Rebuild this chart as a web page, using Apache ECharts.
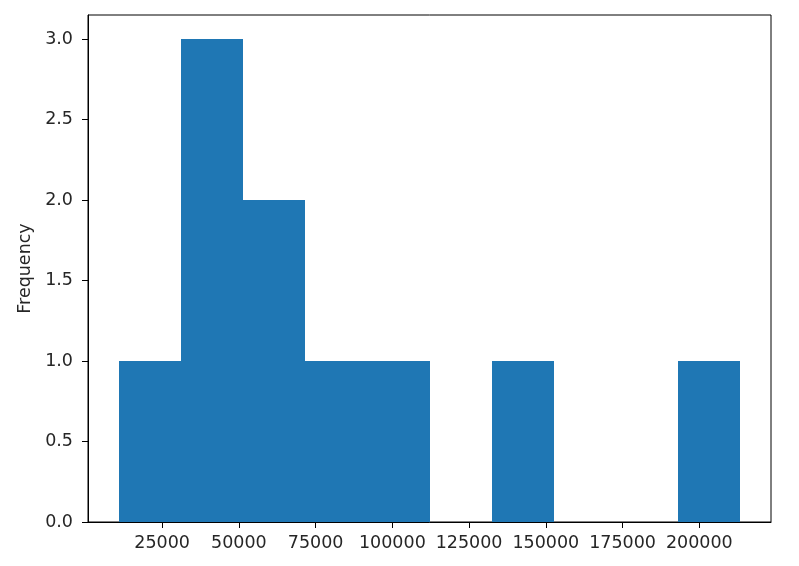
<!DOCTYPE html>
<html>
<head>
<meta charset="utf-8">
<script src="https://cdn.jsdelivr.net/npm/echarts@6/dist/echarts.min.js"></script>
<style>
html,body{margin:0;padding:0;background:#fff;}
#chart{width:799px;height:566px;}
</style>
</head>
<body>
<div id="chart"></div>
<script>
// Histogram bin edges (10 bins) and counts per bin
var binEdges = [10950, 31180, 51410, 71640, 91870, 112100, 132330, 152560, 172790, 193020, 213250];
var binCounts = [1, 3, 2, 1, 1, 0, 1, 0, 0, 1];
var xTicks = [25000, 50000, 75000, 100000, 125000, 150000, 175000, 200000];
var yTicks = [0, 0.5, 1.0, 1.5, 2.0, 2.5, 3.0];

var barData = binCounts.map(function (c, i) { return [binEdges[i], binEdges[i + 1], c]; });

var span = binEdges[binEdges.length - 1] - binEdges[0];
var xMin = binEdges[0] - 0.05 * span;
var xMax = binEdges[binEdges.length - 1] + 0.05 * span;
var yMax = Math.max.apply(null, binCounts) * 1.05;

var font = 'DejaVu Sans';
var chart = echarts.init(document.getElementById('chart'), null, {renderer: 'canvas'});
chart.setOption({
  animation: false,
  backgroundColor: '#ffffff',
  grid: {left: 88, right: 28, top: 15, bottom: 44, show: true, borderColor: '#000', borderWidth: 1, backgroundColor: 'transparent'},
  xAxis: {
    type: 'value', min: xMin, max: xMax,
    axisLine: {show: true, onZero: false, lineStyle: {color: '#000', width: 1}},
    axisTick: {show: true, length: 6, lineStyle: {color: '#000'}, customValues: xTicks},
    axisLabel: {color: '#262626', fontFamily: font, fontSize: 17.5, margin: 12, customValues: xTicks,
      formatter: function (v) { return String(v); }},
    splitLine: {show: false}
  },
  yAxis: {
    type: 'value', min: 0, max: yMax,
    name: 'Frequency', nameLocation: 'middle', nameGap: 54,
    nameTextStyle: {color: '#262626', fontFamily: font, fontSize: 17.5},
    axisLine: {show: true, lineStyle: {color: '#000', width: 1}},
    axisTick: {show: true, length: 6, lineStyle: {color: '#000'}, customValues: yTicks},
    axisLabel: {color: '#262626', fontFamily: font, fontSize: 17.5, margin: 15, customValues: yTicks,
      formatter: function (v) { return v.toFixed(1); }},
    splitLine: {show: false}
  },
  series: [{
    type: 'custom',
    data: barData,
    encode: {x: [0, 1], y: 2},
    z: 1,
    renderItem: function (params, api) {
      if (!api.value(2)) { return null; }
      var p0 = api.coord([api.value(0), api.value(2)]);
      var p1 = api.coord([api.value(1), 0]);
      var x0 = Math.round(p0[0]), x1 = Math.round(p1[0]);
      var y0 = Math.round(p0[1]), y1 = p1[1];
      return {
        type: 'rect',
        shape: {x: x0, y: y0, width: x1 - x0, height: y1 - y0},
        style: {fill: '#1f77b4'}
      };
    }
  }]
});
</script>
</body>
</html>
